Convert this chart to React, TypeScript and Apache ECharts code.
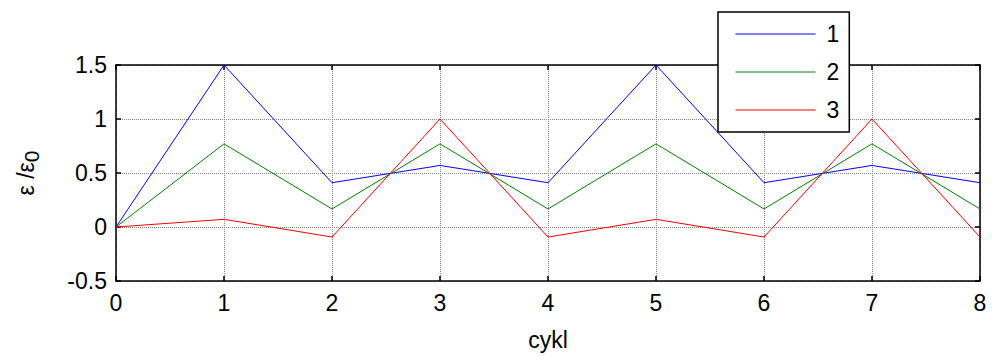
import React, { useEffect, useRef } from "react";
import * as echarts from "echarts";

const cycles = [0, 1, 2, 3, 4, 5, 6, 7, 8];
const series1 = [0, 1.5, 0.41, 0.57, 0.41, 1.5, 0.41, 0.57, 0.41];
const series2 = [0, 0.77, 0.167, 0.77, 0.167, 0.77, 0.167, 0.77, 0.167];
const series3 = [0, 0.071, -0.093, 1.0, -0.093, 0.071, -0.093, 1.0, -0.093];
const seriesNames = ["1", "2", "3"];
const seriesColors = ["#0000ff", "#008000", "#ff0000"];

const FONT = "Liberation Sans, Arial, sans-serif";

export default function App() {
  const ref = useRef<HTMLDivElement>(null);
  useEffect(() => {
    if (!ref.current) return;
    const chart = echarts.init(ref.current, null, { renderer: "svg" });
    const allData = [series1, series2, series3];
    const gridLine = { show: true, lineStyle: { color: "#888", type: "dotted", width: 1 } };
    const frameLine = { show: true, onZero: false, lineStyle: { color: "#000", width: 1.5 } };
    const frameTick = { show: true, inside: true, length: 5, lineStyle: { color: "#000", width: 1.5 } };
    chart.setOption({
      animation: false,
      backgroundColor: "#fff",
      color: seriesColors,
      grid: { left: 116, right: 12, top: 65, bottom: 75, containLabel: false },
      legend: {
        orient: "vertical",
        left: 718,
        top: 12,
        padding: [10, 10, 10, 17],
        borderColor: "#000",
        borderWidth: 1.5,
        backgroundColor: "#fff",
        itemWidth: 80,
        itemHeight: 20,
        itemGap: 14,
        itemStyle: { opacity: 0 },
        lineStyle: { width: 1, opacity: 1 },
        textStyle: { fontFamily: FONT, fontSize: 23, color: "#000", padding: [0, 0, 0, 6], lineHeight: 24 },
        data: seriesNames,
      },
      xAxis: [
        {
          type: "value",
          min: 0,
          max: 8,
          interval: 1,
          name: "cykl",
          nameLocation: "middle",
          nameGap: 47,
          nameTextStyle: { fontFamily: FONT, fontSize: 23, color: "#000" },
          axisLine: frameLine,
          axisTick: frameTick,
          axisLabel: { fontFamily: FONT, fontSize: 23, color: "#000", margin: 10 },
          splitLine: gridLine,
        },
        {
          type: "value",
          position: "top",
          min: 0,
          max: 8,
          interval: 1,
          axisLine: frameLine,
          axisTick: frameTick,
          axisLabel: { show: false },
          splitLine: { show: false },
        },
      ],
      yAxis: [
        {
          type: "value",
          min: -0.5,
          max: 1.5,
          interval: 0.5,
          name: "ε /ε{sub|0}",
          nameLocation: "middle",
          nameGap: 74,
          nameRotate: 90,
          nameTextStyle: {
            fontFamily: FONT,
            fontSize: 23,
            color: "#000",
            rich: { sub: { fontFamily: FONT, fontSize: 21, color: "#000", padding: [12, 0, 0, 0] } },
          },
          axisLine: frameLine,
          axisTick: frameTick,
          axisLabel: {
            fontFamily: FONT,
            fontSize: 23,
            color: "#000",
            margin: 9,
            formatter: (v: number) => String(Math.round(v * 10) / 10),
          },
          splitLine: gridLine,
        },
        {
          type: "value",
          position: "right",
          min: -0.5,
          max: 1.5,
          interval: 0.5,
          axisLine: frameLine,
          axisTick: frameTick,
          axisLabel: { show: false },
          splitLine: { show: false },
        },
      ],
      series: allData.map((d, i) => ({
        name: seriesNames[i],
        type: "line",
        xAxisIndex: 0,
        yAxisIndex: 0,
        color: seriesColors[i],
        data: cycles.map((c, j) => [c, d[j]]),
        symbol: "none",
        lineStyle: { color: seriesColors[i], width: 1 },
        itemStyle: { color: seriesColors[i] },
      })),
    });
    return () => chart.dispose();
  }, []);
  return (
    <div
      ref={ref}
      style={{ position: "absolute", left: 0, top: 0, width: 992, height: 356 }}
    />
  );
}
